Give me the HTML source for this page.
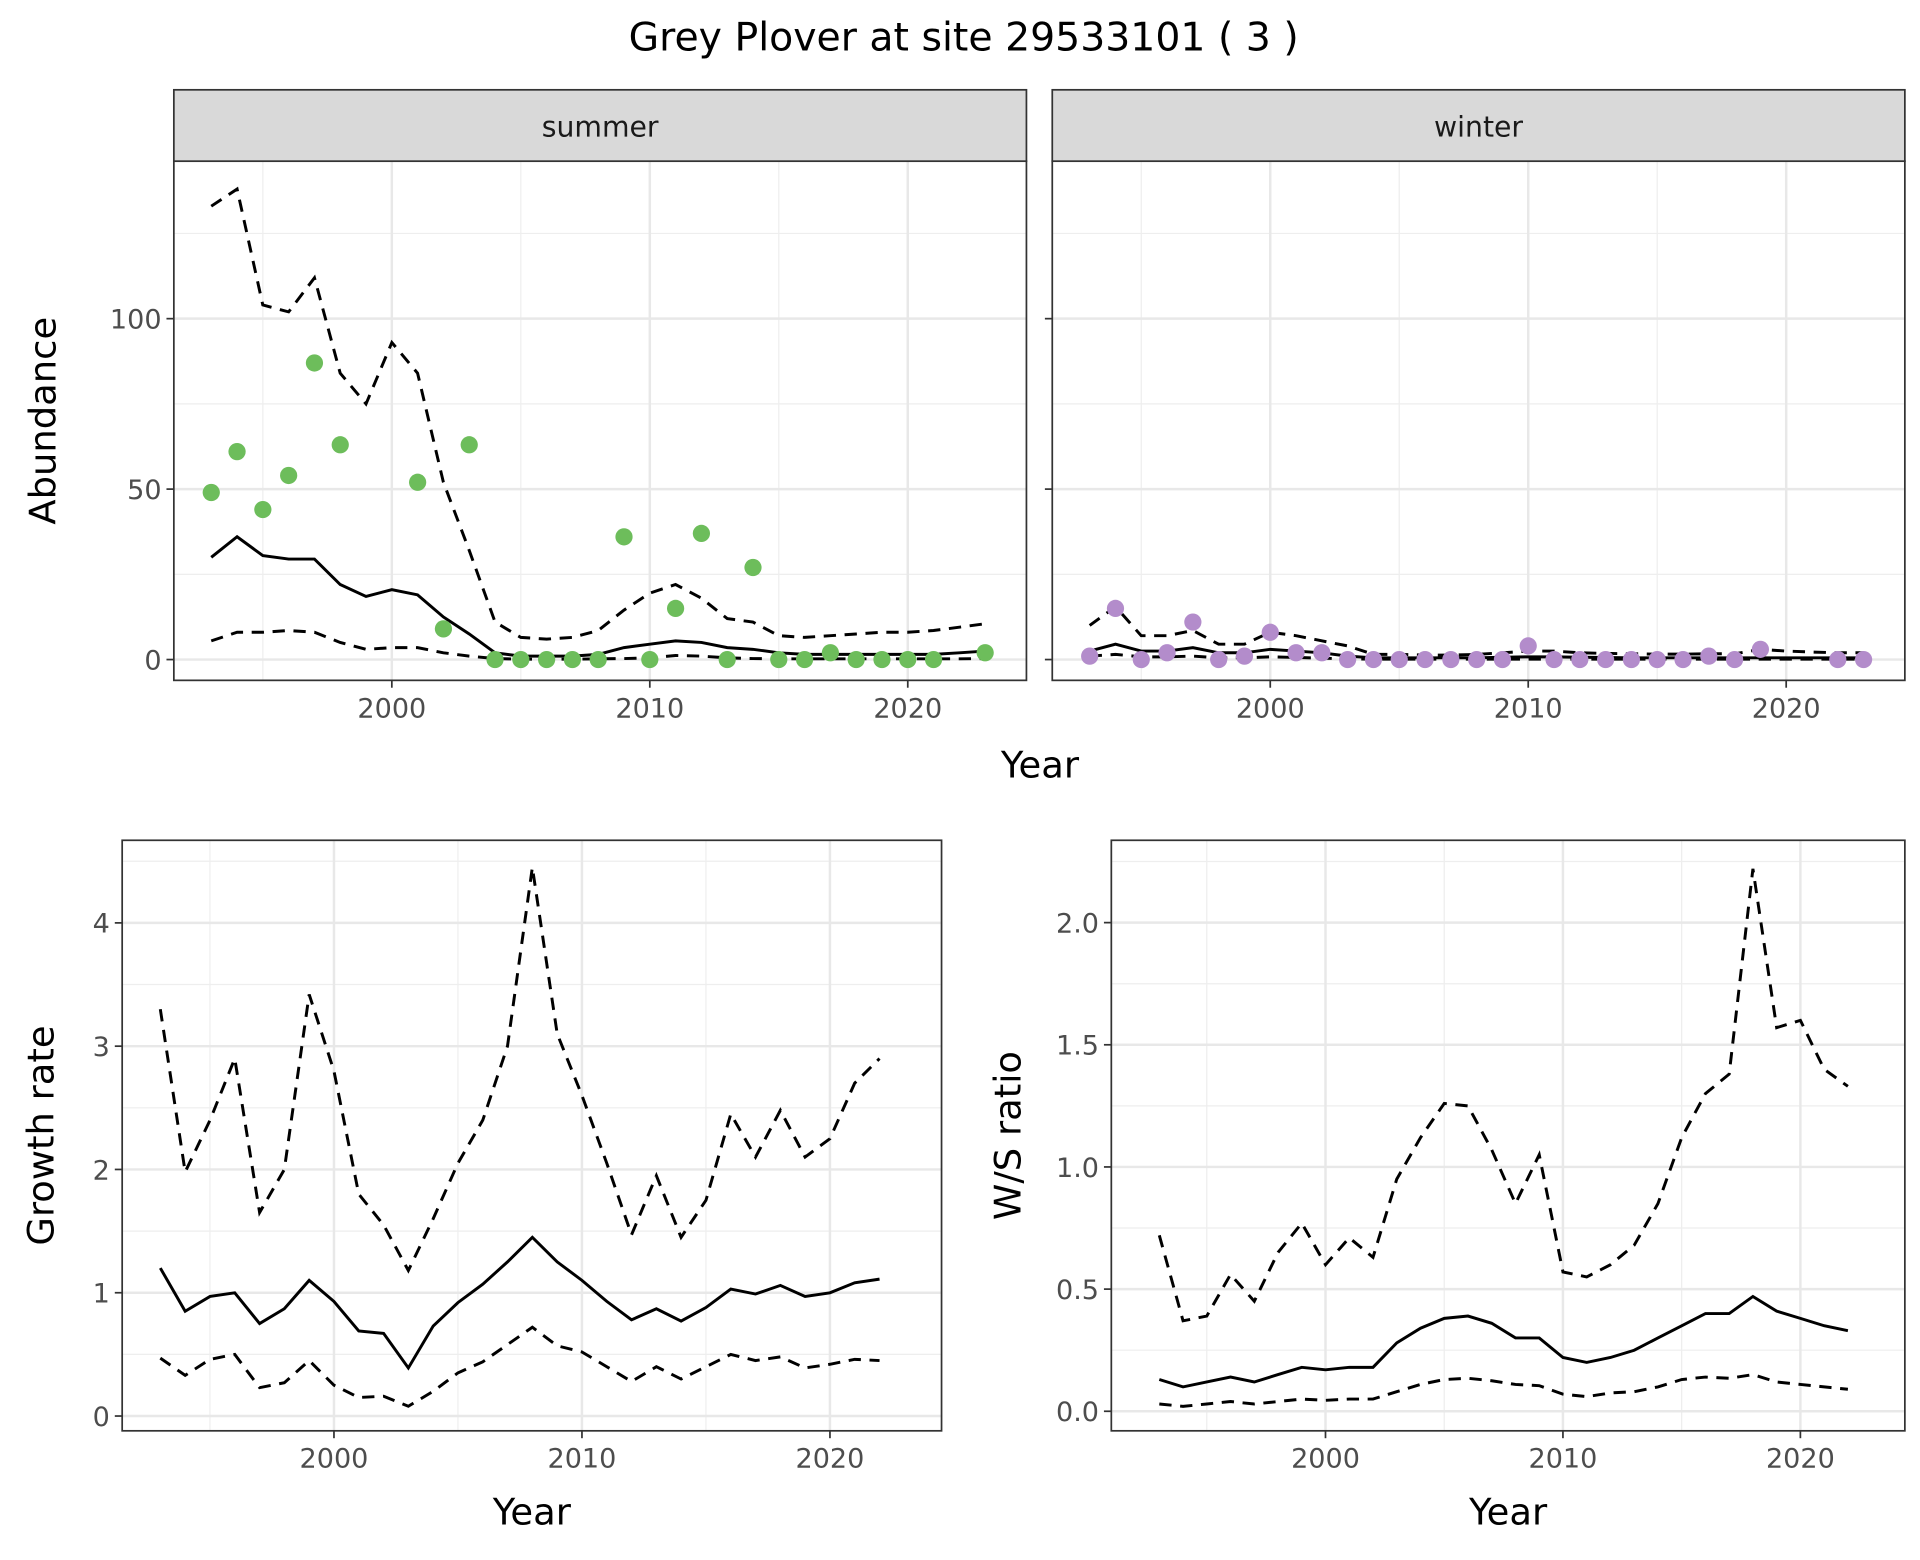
<!DOCTYPE html>
<html><head><meta charset="utf-8"><style>
html,body{margin:0;padding:0;background:#fff}
svg{display:block}
text{font-family:"DejaVu Sans","Liberation Sans",sans-serif}
</style></head><body>
<svg id="root" width="1920" height="1560" viewBox="0 0 1560 1268">
<text x="783" y="41" font-size="32" text-anchor="middle" fill="#000">Grey Plover at site 29533101 ( 3 )</text>
</svg>
<script>
const yearsS=[1993,1994,1995,1996,1997,1998,1999,2000,2001,2002,2003,2004,2005,2006,2007,2008,2009,2010,2011,2012,2013,2014,2015,2016,2017,2018,2019,2020,2021,2022,2023];
const summerPts=[49,61,44,54,87,63,null,null,52,9,63,0,0,0,0,0,36,0,15,37,0,27,0,0,2,0,0,0,0,null,2];
const summerMean=[30,36,30.5,29.5,29.5,22,18.5,20.5,19,12.5,7.5,2,1,1,1,1.5,3.5,4.5,5.5,5,3.5,3,2,1.5,1.5,1.5,1.5,1.5,1.5,2,2.5];
const summerUp=[133,138,104,102,112,84,75,93,84,52,32,11,6.5,6,6.5,8.5,14.5,19.5,22,18,12,11,7,6.5,7,7.5,8,8,8.5,9.5,10.5];
const summerLo=[5.5,8,8,8.5,8,5,3,3.5,3.5,2,1,0.3,0.1,0.1,0.1,0.2,0.3,0.5,1.2,1,0.5,0.3,0.2,0.2,0.2,0.2,0.2,0.2,0.2,0.2,0.3];
const winterPts=[1,15,0,2,11,0,1,8,2,2,0,0,0,0,0,0,0,4,0,0,0,0,0,0,1,0,3,null,null,0,0];
const winterMean=[2.5,4.5,2.5,2.5,3.5,2,2,3,2.5,2,1,0.5,0.5,0.5,0.5,0.5,0.7,0.8,0.8,0.7,0.6,0.5,0.5,0.5,0.5,0.5,0.5,0.5,0.5,0.5,0.5];
const winterUp=[10,15.5,7,7,8.5,4.5,4.5,8,7,5.5,4,1.5,1.5,1.3,1.3,1.5,2,2.5,2.5,2,1.8,1.7,1.6,1.6,1.7,1.7,3,2.5,2.2,2,2];
const winterLo=[1,1.5,0.8,0.8,1,0.5,0.5,0.8,0.6,0.4,0.2,0.1,0.1,0.1,0.1,0.1,0.1,0.1,0.1,0.1,0.1,0.1,0.1,0.1,0.1,0.1,0.1,0.1,0.1,0.1,0.1];
const yearsG=[1993,1994,1995,1996,1997,1998,1999,2000,2001,2002,2003,2004,2005,2006,2007,2008,2009,2010,2011,2012,2013,2014,2015,2016,2017,2018,2019,2020,2021,2022];
const growthMean=[1.2,0.85,0.97,1.0,0.75,0.87,1.1,0.93,0.69,0.67,0.39,0.73,0.92,1.07,1.25,1.45,1.25,1.1,0.93,0.78,0.87,0.77,0.88,1.03,0.99,1.06,0.97,1.0,1.08,1.11];
const growthUp=[3.3,1.98,2.4,2.9,1.65,2.0,3.42,2.8,1.8,1.55,1.18,1.6,2.05,2.4,3.0,4.45,3.1,2.6,2.05,1.47,1.95,1.45,1.75,2.45,2.1,2.48,2.1,2.25,2.7,2.9];
const growthLo=[0.47,0.33,0.46,0.5,0.23,0.27,0.45,0.25,0.15,0.16,0.08,0.2,0.35,0.44,0.58,0.72,0.57,0.52,0.4,0.28,0.4,0.3,0.4,0.5,0.45,0.48,0.39,0.42,0.46,0.45];
const ratioMean=[0.13,0.10,0.12,0.14,0.12,0.15,0.18,0.17,0.18,0.18,0.28,0.34,0.38,0.39,0.36,0.30,0.30,0.22,0.20,0.22,0.25,0.30,0.35,0.40,0.40,0.47,0.41,0.38,0.35,0.33];
const ratioUp=[0.72,0.37,0.39,0.56,0.45,0.65,0.77,0.6,0.71,0.63,0.95,1.12,1.26,1.25,1.07,0.85,1.05,0.57,0.55,0.6,0.68,0.85,1.12,1.3,1.38,2.22,1.57,1.6,1.4,1.33];
const ratioLo=[0.03,0.02,0.03,0.04,0.03,0.04,0.05,0.045,0.05,0.05,0.08,0.11,0.13,0.135,0.125,0.11,0.105,0.07,0.06,0.075,0.08,0.1,0.13,0.14,0.135,0.15,0.12,0.11,0.1,0.09];
const xTicks=[2000,2010,2020];
const absTicks=[0,50,100];
const growthTicks=[0,1,2,3,4];
const ratioTicks=[0,0.5,1.0,1.5,2.0];
const ratioTickLabels=["0.0","0.5","1.0","1.5","2.0"];

const NS="http://www.w3.org/2000/svg";
const root=document.getElementById('root');
function mk(tag,attrs,parent){const e=document.createElementNS(NS,tag);for(const k in attrs)e.setAttribute(k,attrs[k]);(parent||root).appendChild(e);return e;}

function panel(p){
  const g=mk('g',{});
  
  
  const sx=v=>p.x0+(v-p.xmin)/(p.xmax-p.xmin)*(p.x1-p.x0);
  const sy=v=>p.y1-(v-p.ymin)/(p.ymax-p.ymin)*(p.y1-p.y0);
  mk('rect',{x:p.x0,y:p.y0,width:p.x1-p.x0,height:p.y1-p.y0,fill:'#fff'},g);
  for(let v=Math.ceil(p.xmin/5)*5;v<=p.xmax;v+=5){ if(v%10!==0) mk('line',{x1:sx(v),x2:sx(v),y1:p.y0,y2:p.y1,stroke:'#eeeeee','stroke-width':1},g);}
  for(let i=0;i<p.yTicks.length-1;i++){const v=(p.yTicks[i]+p.yTicks[i+1])/2;mk('line',{x1:p.x0,x2:p.x1,y1:sy(v),y2:sy(v),stroke:'#eeeeee','stroke-width':1},g);}
  {const last=p.yTicks[p.yTicks.length-1],st=p.yTicks[1]-p.yTicks[0];const v=last+st/2;if(v<p.ymax)mk('line',{x1:p.x0,x2:p.x1,y1:sy(v),y2:sy(v),stroke:'#eeeeee','stroke-width':1},g);}
  xTicks.forEach(v=>mk('line',{x1:sx(v),x2:sx(v),y1:p.y0,y2:p.y1,stroke:'#e8e8e8','stroke-width':2},g));
  p.yTicks.forEach(v=>mk('line',{x1:p.x0,x2:p.x1,y1:sy(v),y2:sy(v),stroke:'#e8e8e8','stroke-width':2},g));
  const line=(ys,dash,nm)=>{let d='';let pen=false;p.years.forEach((yr,i)=>{if(ys[i]==null){pen=false;return;}d+=(pen?'L':'M')+sx(yr).toFixed(1)+','+sy(ys[i]).toFixed(1);pen=true;});
    const e=mk('path',{d:d,fill:'none',stroke:'#000','stroke-width':2.4,'stroke-dasharray':dash?'10,7':'none'},g);
    
    };
  line(p.up,true,'upper-ci-line');line(p.lo,true,'lower-ci-line');line(p.mean,false,'mean-line');
  if(p.pts){p.years.forEach((yr,i)=>{if(p.pts[i]==null)return;const c=mk('circle',{cx:sx(yr),cy:sy(p.pts[i]),r:7,fill:p.col},g);
    
    });}
  mk('rect',{x:p.x0,y:p.y0,width:p.x1-p.x0,height:p.y1-p.y0,fill:'none',stroke:'#333','stroke-width':1.4},g);
  if(p.strip){mk('rect',{x:p.x0,y:p.y0-58,width:p.x1-p.x0,height:58,fill:'#d9d9d9',stroke:'#333','stroke-width':1.4},g);
    const t=mk('text',{x:(p.x0+p.x1)/2,y:p.y0-20,'font-size':23,'text-anchor':'middle',fill:'#1a1a1a'},g);t.textContent=p.strip;
    
    }
  xTicks.forEach(v=>{mk('line',{x1:sx(v),x2:sx(v),y1:p.y1,y2:p.y1+6,stroke:'#333','stroke-width':1.4},g);
    const t=mk('text',{x:sx(v),y:p.y1+30,'font-size':22,'text-anchor':'middle',fill:'#4d4d4d'},g);t.textContent=v;
    
    });
  if(p.yLabels){p.yTicks.forEach((v,i)=>{mk('line',{x1:p.x0-6,x2:p.x0,y1:sy(v),y2:sy(v),stroke:'#333','stroke-width':1.4},g);
    const t=mk('text',{x:p.x0-10,y:sy(v)+8,'font-size':22,'text-anchor':'end',fill:'#4d4d4d'},g);t.textContent=p.yLabels[i];
    
    });}
  else {p.yTicks.forEach(v=>mk('line',{x1:p.x0-6,x2:p.x0,y1:sy(v),y2:sy(v),stroke:'#333','stroke-width':1.4},g));}
  if(p.ytitle){const t=mk('text',{x:0,y:0,'font-size':30,'text-anchor':'middle',fill:'#000',transform:`translate(${p.ytx},${(p.y0+p.y1)/2}) rotate(-90)`},g);t.textContent=p.ytitle;
    
    }
  if(p.xtitle){const t=mk('text',{x:(p.x0+p.x1)/2,y:p.y1+76,'font-size':30,'text-anchor':'middle',fill:'#000'},g);t.textContent='Year';
    
    }
}
panel({name:'summer-panel',x0:141,x1:834,y0:131,y1:553,xmin:1991.55,xmax:2024.6,ymin:-6.1,ymax:146.2,years:yearsS,pts:summerPts,mean:summerMean,up:summerUp,lo:summerLo,col:'#6dbd5b',strip:'summer',yTicks:absTicks,yLabels:absTicks.map(String),ytitle:'Abundance',ytx:45});
panel({name:'winter-panel',x0:855,x1:1548,y0:131,y1:553,xmin:1991.55,xmax:2024.6,ymin:-6.1,ymax:146.2,years:yearsS,pts:winterPts,mean:winterMean,up:winterUp,lo:winterLo,col:'#b38ccb',strip:'winter',yTicks:absTicks});
{const t=mk('text',{x:845,y:632,'font-size':30,'text-anchor':'middle',fill:'#000'});t.textContent='Year';

}
panel({name:'growth-rate-panel',x0:99,x1:765,y0:683,y1:1163,xmin:1991.46,xmax:2024.5,ymin:-0.12,ymax:4.67,years:yearsG,mean:growthMean,up:growthUp,lo:growthLo,yTicks:growthTicks,yLabels:growthTicks.map(String),ytitle:'Growth rate',ytx:43,xtitle:true});
panel({name:'ws-ratio-panel',x0:903,x1:1548,y0:683,y1:1163,xmin:1990.98,xmax:2024.4,ymin:-0.08,ymax:2.337,years:yearsG,mean:ratioMean,up:ratioUp,lo:ratioLo,yTicks:ratioTicks,yLabels:ratioTickLabels,ytitle:'W/S ratio',ytx:829,xtitle:true});
</script>
</body></html>
